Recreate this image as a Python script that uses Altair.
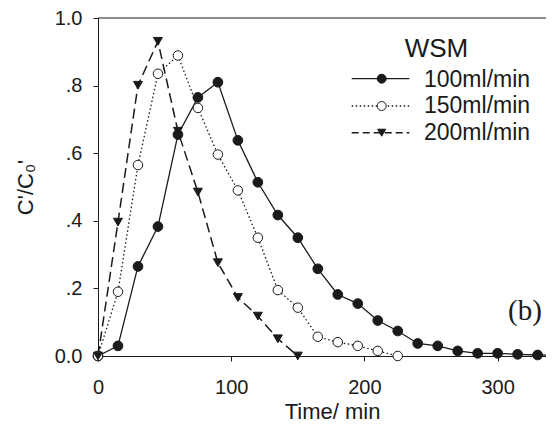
import altair as alt
import pandas as pd

# ---- data ----
time_100 = [0, 15, 30, 45, 60, 75, 90, 105, 120, 135, 150, 165, 180, 195, 210, 225,
            240, 255, 270, 285, 300, 315, 330, 345]
conc_100 = [0.0, 0.03, 0.265, 0.383, 0.655, 0.765, 0.81, 0.638, 0.514, 0.417, 0.35, 0.258,
            0.182, 0.155, 0.105, 0.074, 0.037, 0.03, 0.015, 0.008, 0.008, 0.005, 0.003, 0.002]
time_150 = [0, 15, 30, 45, 60, 75, 90, 105, 120, 135, 150, 165, 180, 195, 210, 225]
conc_150 = [0.0, 0.19, 0.565, 0.835, 0.889, 0.734, 0.596, 0.49, 0.35, 0.195, 0.143, 0.057,
            0.041, 0.03, 0.015, 0.0]
time_200 = [0, 15, 30, 45, 60, 75, 90, 105, 120, 135, 150]
conc_200 = [0.0, 0.396, 0.801, 0.931, 0.665, 0.485, 0.276, 0.173, 0.118, 0.051, 0.0]

series_labels = ["100ml/min", "150ml/min", "200ml/min"]
legend_title = "WSM"
panel_tag = "(b)"
x_ticks = [0, 100, 200, 300]
y_ticks = [0, 0.2, 0.4, 0.6, 0.8, 1.0]
x_title = "Time/ min"
y_title = "C'/C\u2080'"

FONT = "Liberation Sans"
INK = "#1a1a1a"
W, H = 448, 338

x_scale = alt.Scale(domain=[0, 336.3], nice=False, zero=False)
y_scale = alt.Scale(domain=[0, 1], nice=False)

x_axis = alt.Axis(values=x_ticks, title=x_title, grid=False, tickSize=5, tickColor=INK,
                  domainColor=INK, labelFont=FONT, labelFontSize=20, labelColor=INK,
                  labelBaseline="alphabetic", labelPadding=32, labelFlush=False,
                  titleFont=FONT, titleFontSize=22, titleFontWeight="normal", titleColor=INK,
                  titleBaseline="alphabetic", titleX=234, titleY=62)
y_axis = alt.Axis(values=y_ticks, title=y_title, grid=False, tickSize=5, tickColor=INK,
                  domainColor=INK, labelFont=FONT, labelFontSize=20, labelColor=INK,
                  labelPadding=11, labelFlush=False,
                  labelExpr="datum.value == 0 ? '0.0' : (datum.value >= 1 ? '1.0' : replace(format(datum.value, '.1f'), '0.', '.'))",
                  titleFont=FONT, titleFontSize=22, titleFontWeight="normal", titleColor=INK,
                  titleBaseline="alphabetic", titleAngle=270, titleX=-66, titleY=169)


def series_layers(t, c, dash, fill, shape, size, sw):
    df = pd.DataFrame({"t": t, "c": c})
    base = alt.Chart(df)
    line_kw = dict(color=INK, strokeWidth=sw)
    if dash:
        line_kw["strokeDash"] = dash
    enc = dict(x=alt.X("t:Q", scale=x_scale, axis=x_axis),
               y=alt.Y("c:Q", scale=y_scale, axis=y_axis))
    line = base.mark_line(**line_kw).encode(**enc)
    pts = base.mark_point(shape=shape, filled=True, fill=fill, stroke=INK, strokeWidth=1,
                          size=size, opacity=1).encode(**enc)
    return [line, pts]


layers = []
# top frame line of the plot box
layers.append(alt.Chart(pd.DataFrame({"label": ["frame"]})).mark_rule(
    color=INK, strokeWidth=1).encode(x=alt.value(0), x2=alt.value(W + 10), y=alt.value(0)))
layers += series_layers(time_100, conc_100, None, INK, "circle", 95, 1.3)
layers += series_layers(time_150, conc_150, [1.5, 2.5], "white", "circle", 90, 1.3)
layers += series_layers(time_200, conc_200, [10, 5], INK, "triangle-down", 80, 1.5)

# ---- hand-built legend (inside plot, upper right) ----
leg_styles = [
    (None, INK, "circle", 1.3),
    ([1.5, 2.5], "white", "circle", 1.3),
    ([7, 4], INK, "triangle-down", 1.5),
]
sym_y = [60.7, 88, 114.7]
txt_y = [69.3, 95.3, 122]
for i, label in enumerate(series_labels):
    dash, fill, shape, sw = leg_styles[i]
    ldf = pd.DataFrame({"label": [label]})
    rule_kw = dict(color=INK, strokeWidth=sw)
    if dash:
        rule_kw["strokeDash"] = dash
    layers.append(alt.Chart(ldf).mark_rule(**rule_kw).encode(
        x=alt.value(253.7), x2=alt.value(311.3), y=alt.value(sym_y[i])))
    layers.append(alt.Chart(ldf).mark_point(shape=shape, filled=True, fill=fill, stroke=INK,
                                            strokeWidth=1, size=80 if shape == "circle" else 65,
                                            opacity=1).encode(
        x=alt.value(283.7), y=alt.value(sym_y[i])))
    layers.append(alt.Chart(ldf).mark_text(align="left", baseline="alphabetic", font=FONT,
                                           fontSize=23, color=INK).encode(
        x=alt.value(326), y=alt.value(txt_y[i]), text="label:N"))

layers.append(alt.Chart(pd.DataFrame({"label": [legend_title]})).mark_text(
    align="center", baseline="alphabetic", font=FONT, fontSize=26, color=INK).encode(
    x=alt.value(338.5), y=alt.value(38.7), text="label:N"))

layers.append(alt.Chart(pd.DataFrame({"label": [panel_tag]})).mark_text(
    align="center", baseline="alphabetic", font="Liberation Serif", fontSize=29, color=INK).encode(
    x=alt.value(427), y=alt.value(302), text="label:N"))

chart = alt.layer(*layers).properties(
    width=W, height=H,
    autosize=alt.AutoSizeParams(type="none"),
    padding={"left": 90, "top": 10, "right": 0, "bottom": 68},
).configure_view(strokeWidth=0, stroke="transparent")

chart.save("out.html", embed_options={"renderer": "svg", "actions": False})
